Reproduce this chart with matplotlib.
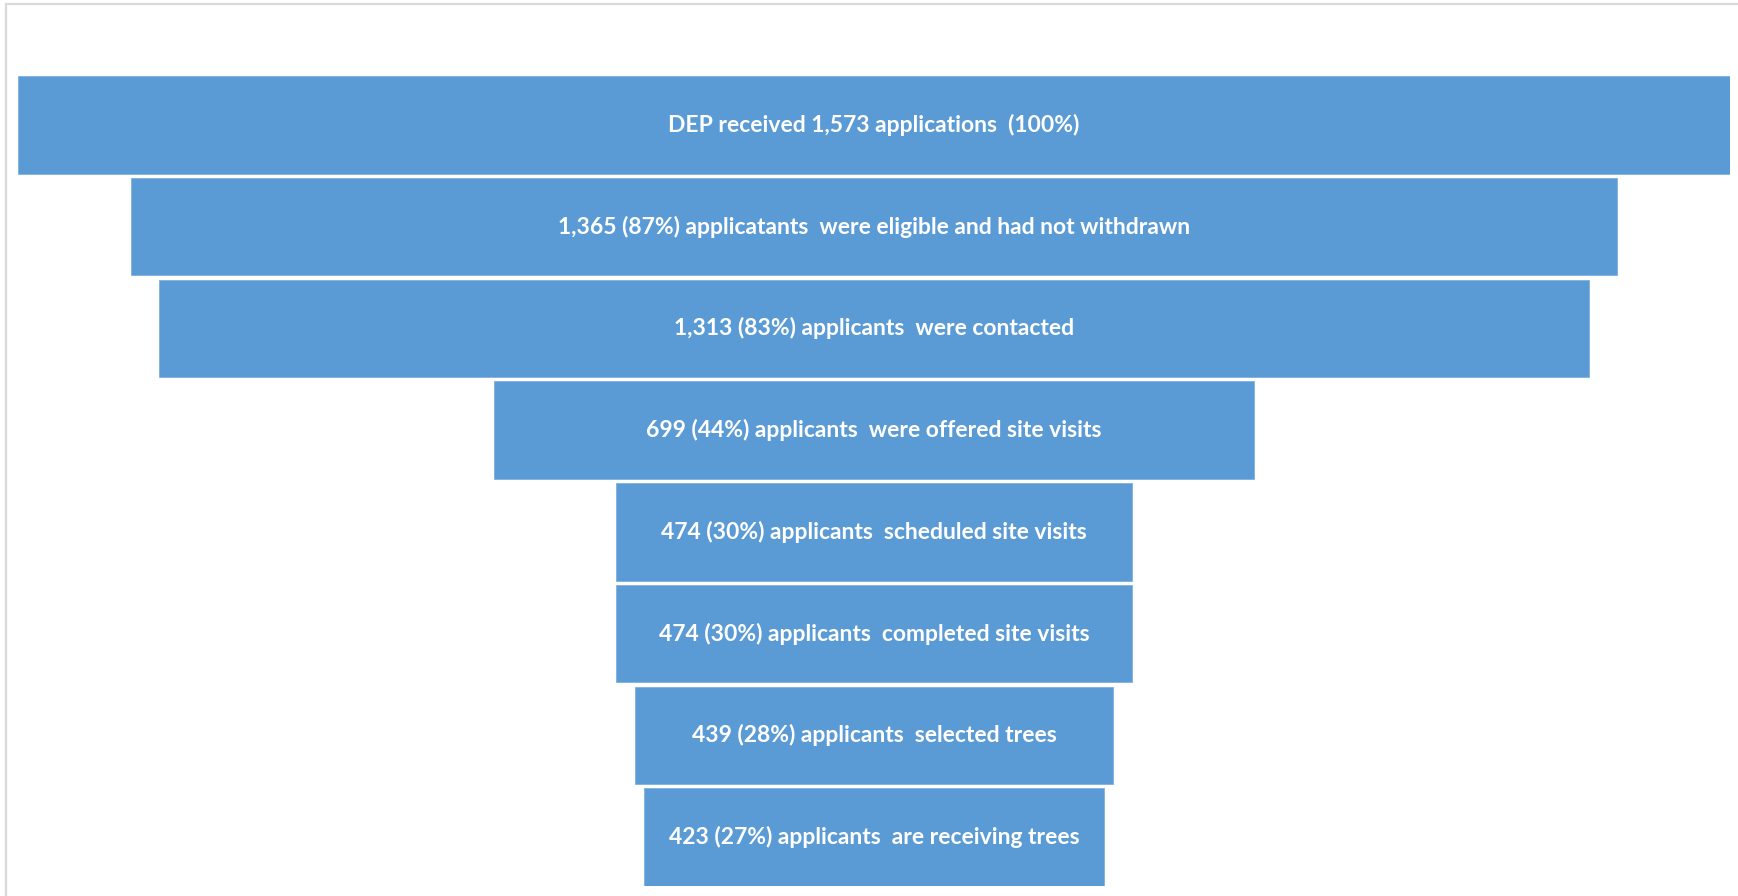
import matplotlib
matplotlib.use("Agg")
import matplotlib.pyplot as plt
from matplotlib.patches import Rectangle

# funnel stages: applicant counts and the wording after the count
counts = [1573, 1365, 1313, 699, 474, 474, 439, 423]
captions = [
    None,
    "applicatants  were eligible and had not withdrawn",
    "applicants  were contacted",
    "applicants  were offered site visits",
    "applicants  scheduled site visits",
    "applicants  completed site visits",
    "applicants  selected trees",
    "applicants  are receiving trees",
]
total = counts[0]

labels = []
for n, cap in zip(counts, captions):
    pct = round(100 * n / total)
    if cap is None:
        labels.append(f"DEP received {n:,} applications  ({pct}%)")
    else:
        labels.append(f"{n:,} ({pct}%) {cap}")

W, H = 1738, 896
fig = plt.figure(figsize=(W / 100, H / 100), dpi=100)

# light frame around the chart area (runs off the right/bottom edge)
fig.patches.append(Rectangle((6 / W, -0.1), 1.2, 1 - 4 / H + 0.1, transform=fig.transFigure,
                             fill=False, edgecolor="#d9d9d9", linewidth=1.6))

ax = fig.add_axes([18 / W, 10 / H, 1712 / W, 810 / H])
ys = list(range(len(counts)))
h = 0.96
ax.barh(ys, counts, left=[-c / 2 for c in counts], height=h,
        color="#5b9bd5", edgecolor="#7fb0e0", linewidth=0.6)
for y, lab in zip(ys, labels):
    ax.text(0, y, lab, ha="center", va="center", color="white",
            fontsize=16.5, fontweight="bold", family=["Lato", "DejaVu Sans"])

ax.set_xlim(-total / 2, total / 2)
ax.set_ylim(len(counts) - 1 + h / 2, -h / 2)
ax.axis("off")

fig.savefig("out.png", dpi=100, facecolor="white")
